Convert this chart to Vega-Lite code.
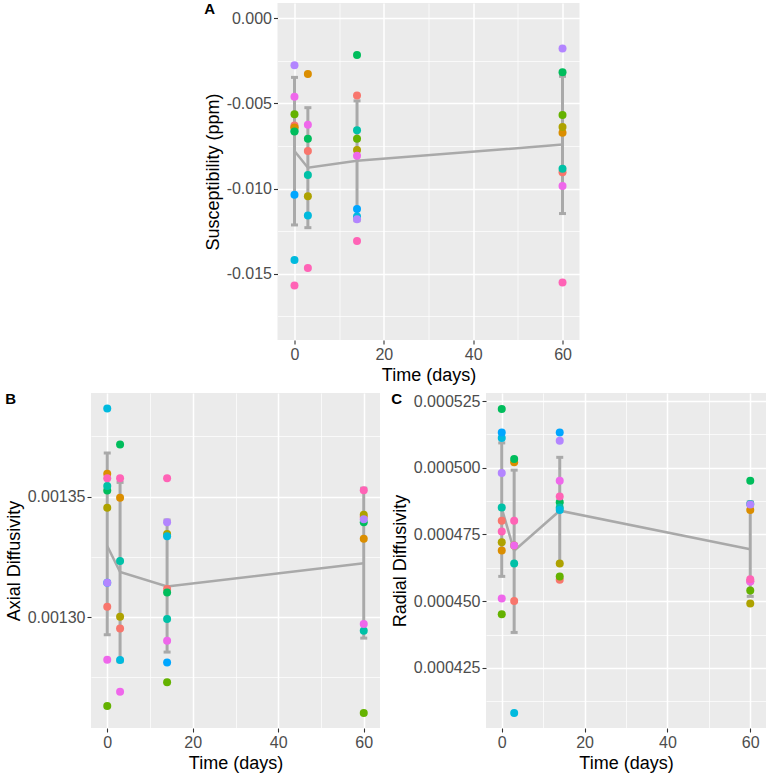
{
  "$schema": "https://vega.github.io/schema/vega-lite/v6.json",
  "background": "white",
  "padding": {"left": 5, "top": 2, "right": 2, "bottom": 2},
  "config": {
    "font": "Liberation Sans",
    "view": {"fill": "#EBEBEB", "stroke": null},
    "axis": {
      "domain": false,
      "gridColor": "#FFFFFF",
      "tickColor": "#333333",
      "tickSize": 4,
      "tickWidth": 1.1,
      "labelColor": "#4D4D4D",
      "labelFontSize": 16,
      "labelFont": "Liberation Sans",
      "labelPadding": 2,
      "labelFlush": false,
      "labelOverlap": false,
      "titleFont": "Liberation Sans",
      "titleFontSize": 18,
      "titleFontWeight": "normal",
      "titleColor": "#000000",
      "titlePadding": 4
    },
    "title": {"font": "Liberation Sans", "fontSize": 15, "fontWeight": "bold", "color": "#000000", "anchor": "start", "frame": "bounds", "offset": -14}
  },
  "datasets": {
    "sus": [
      {"s": "S03", "day": 0, "v": -0.00642}, {"s": "S06", "day": 0, "v": -0.00662},
      {"s": "S01", "day": 0, "v": -0.00630}, {"s": "S02", "day": 0, "v": -0.00642}, {"s": "S04", "day": 0, "v": -0.00564}, {"s": "S05", "day": 0, "v": -0.00665}, {"s": "S07", "day": 0, "v": -0.01420}, {"s": "S08", "day": 0, "v": -0.01036}, {"s": "S09", "day": 0, "v": -0.00276}, {"s": "S10", "day": 0, "v": -0.00461}, {"s": "S11", "day": 0, "v": -0.01570},
      {"s": "S01", "day": 3, "v": -0.00780}, {"s": "S02", "day": 3, "v": -0.00327}, {"s": "S03", "day": 3, "v": -0.01046}, {"s": "S05", "day": 3, "v": -0.00707}, {"s": "S06", "day": 3, "v": -0.00920}, {"s": "S07", "day": 3, "v": -0.01159}, {"s": "S10", "day": 3, "v": -0.00625}, {"s": "S11", "day": 3, "v": -0.01467},
      {"s": "S01", "day": 14, "v": -0.00453}, {"s": "S03", "day": 14, "v": -0.00774}, {"s": "S04", "day": 14, "v": -0.00707}, {"s": "S05", "day": 14, "v": -0.00216}, {"s": "S06", "day": 14, "v": -0.00657}, {"s": "S07", "day": 14, "v": -0.01165}, {"s": "S08", "day": 14, "v": -0.01121}, {"s": "S09", "day": 14, "v": -0.01180}, {"s": "S10", "day": 14, "v": -0.00807}, {"s": "S11", "day": 14, "v": -0.01309},
      {"s": "S01", "day": 60, "v": -0.00904}, {"s": "S02", "day": 60, "v": -0.00673}, {"s": "S03", "day": 60, "v": -0.00639}, {"s": "S04", "day": 60, "v": -0.00568}, {"s": "S05", "day": 60, "v": -0.00317}, {"s": "S06", "day": 60, "v": -0.00884}, {"s": "S09", "day": 60, "v": -0.00177}, {"s": "S10", "day": 60, "v": -0.00985}, {"s": "S11", "day": 60, "v": -0.01552}
    ],
    "sus_sum": [
      {"day": 0, "v": -0.00779, "lo": -0.01214, "hi": -0.00347},
      {"day": 3, "v": -0.00878, "lo": -0.01230, "hi": -0.00525},
      {"day": 14, "v": -0.00837, "lo": -0.01189, "hi": -0.00485},
      {"day": 60, "v": -0.00742, "lo": -0.01147, "hi": -0.00341}
    ],
    "ad": [
      {"s": "S08", "day": 0, "v": 0.0013143}, {"s": "S01", "day": 60, "v": 0.0013415},
      {"s": "S01", "day": 0, "v": 0.0013043}, {"s": "S02", "day": 0, "v": 0.0013595}, {"s": "S03", "day": 0, "v": 0.0013454}, {"s": "S04", "day": 0, "v": 0.0012631}, {"s": "S05", "day": 0, "v": 0.0013525}, {"s": "S06", "day": 0, "v": 0.0013544}, {"s": "S07", "day": 0, "v": 0.0013866}, {"s": "S09", "day": 0, "v": 0.0013143}, {"s": "S10", "day": 0, "v": 0.0012823}, {"s": "S11", "day": 0, "v": 0.0013576},
      {"s": "S01", "day": 3, "v": 0.0012953}, {"s": "S02", "day": 3, "v": 0.0013495}, {"s": "S03", "day": 3, "v": 0.0013002}, {"s": "S05", "day": 3, "v": 0.0013716}, {"s": "S06", "day": 3, "v": 0.0013233}, {"s": "S07", "day": 3, "v": 0.0012822}, {"s": "S10", "day": 3, "v": 0.0012690}, {"s": "S11", "day": 3, "v": 0.0013576},
      {"s": "S01", "day": 14, "v": 0.0013117}, {"s": "S03", "day": 14, "v": 0.0013345}, {"s": "S04", "day": 14, "v": 0.0012730}, {"s": "S05", "day": 14, "v": 0.0013102}, {"s": "S06", "day": 14, "v": 0.0012992}, {"s": "S07", "day": 14, "v": 0.0013336}, {"s": "S08", "day": 14, "v": 0.0012812}, {"s": "S09", "day": 14, "v": 0.0013394}, {"s": "S10", "day": 14, "v": 0.0012902}, {"s": "S11", "day": 14, "v": 0.0013576},
      {"s": "S02", "day": 60, "v": 0.0013325}, {"s": "S03", "day": 60, "v": 0.0013425}, {"s": "S04", "day": 60, "v": 0.0012602}, {"s": "S05", "day": 60, "v": 0.0013394}, {"s": "S06", "day": 60, "v": 0.0012943}, {"s": "S09", "day": 60, "v": 0.0013406}, {"s": "S10", "day": 60, "v": 0.0012972}, {"s": "S11", "day": 60, "v": 0.0013527}
    ],
    "ad_sum": [
      {"day": 0, "v": 0.0013295, "lo": 0.0012927, "hi": 0.0013681},
      {"day": 3, "v": 0.0013187, "lo": 0.0012815, "hi": 0.0013559},
      {"day": 14, "v": 0.0013127, "lo": 0.0012855, "hi": 0.0013403},
      {"day": 60, "v": 0.0013224, "lo": 0.0012913, "hi": 0.0013535}
    ],
    "rd": [
      {"s": "S03", "day": 3, "v": 0.0004709}, {"s": "S06", "day": 60, "v": 0.0004864}, {"s": "S01", "day": 60, "v": 0.0004575},
      {"s": "S01", "day": 0, "v": 0.0004801}, {"s": "S02", "day": 0, "v": 0.0004690}, {"s": "S03", "day": 0, "v": 0.0004721}, {"s": "S04", "day": 0, "v": 0.0004451}, {"s": "S05", "day": 0, "v": 0.0005220}, {"s": "S06", "day": 0, "v": 0.0004851}, {"s": "S07", "day": 0, "v": 0.0005111}, {"s": "S08", "day": 0, "v": 0.0005132}, {"s": "S09", "day": 0, "v": 0.0004980}, {"s": "S10", "day": 0, "v": 0.0004510}, {"s": "S11", "day": 0, "v": 0.0004761},
      {"s": "S01", "day": 3, "v": 0.0004501}, {"s": "S02", "day": 3, "v": 0.0005021}, {"s": "S05", "day": 3, "v": 0.0005033}, {"s": "S06", "day": 3, "v": 0.0004641}, {"s": "S07", "day": 3, "v": 0.0004081}, {"s": "S10", "day": 3, "v": 0.0004709}, {"s": "S11", "day": 3, "v": 0.0004801},
      {"s": "S01", "day": 14, "v": 0.0004580}, {"s": "S03", "day": 14, "v": 0.0004641}, {"s": "S04", "day": 14, "v": 0.0004593}, {"s": "S05", "day": 14, "v": 0.0004871}, {"s": "S06", "day": 14, "v": 0.0004851}, {"s": "S07", "day": 14, "v": 0.0004842}, {"s": "S08", "day": 14, "v": 0.0005132}, {"s": "S09", "day": 14, "v": 0.0005101}, {"s": "S10", "day": 14, "v": 0.0004951}, {"s": "S11", "day": 14, "v": 0.0004892},
      {"s": "S02", "day": 60, "v": 0.0004842}, {"s": "S03", "day": 60, "v": 0.0004491}, {"s": "S04", "day": 60, "v": 0.0004540}, {"s": "S05", "day": 60, "v": 0.0004951}, {"s": "S09", "day": 60, "v": 0.0004862}, {"s": "S10", "day": 60, "v": 0.0004574}, {"s": "S11", "day": 60, "v": 0.0004582}
    ],
    "rd_sum": [
      {"day": 0, "v": 0.0004848, "lo": 0.0004593, "hi": 0.0005093},
      {"day": 3, "v": 0.0004689, "lo": 0.0004383, "hi": 0.0004991},
      {"day": 14, "v": 0.0004839, "lo": 0.0004639, "hi": 0.0005039},
      {"day": 60, "v": 0.0004695, "lo": 0.0004518, "hi": 0.0004872}
    ]
  },
  "spacing": 8,
  "center": true,
  "vconcat": [
    {
      "title": {"text": "A"},
      "width": 302,
      "height": 337,
      "encoding": {
        "x": {"field": "day", "type": "quantitative", "title": "Time (days)", "scale": {"domain": [-3.8, 63.8], "nice": false, "zero": false},
          "axis": {"values": [0, 10, 20, 30, 40, 50, 60], "labelExpr": "datum.value % 20 == 0 ? datum.label : ''",
            "tickOpacity": {"condition": {"test": "datum.value % 20 == 0", "value": 1}, "value": 0},
            "gridWidth": {"condition": {"test": "datum.value % 20 == 0", "value": 1.5}, "value": 0.7}}},
        "y": {"field": "v", "type": "quantitative", "title": "Susceptibility (ppm)", "scale": {"domain": [-0.0189, 0.0009], "nice": false, "zero": false},
          "axis": {"values": [-0.0175, -0.015, -0.0125, -0.01, -0.0075, -0.005, -0.0025, 0],
            "labelExpr": "round(datum.value/0.0025) % 2 == 0 ? replace(format(datum.value, '.3f'), '\u2212', '-') : ''",
            "tickOpacity": {"condition": {"test": "round(datum.value/0.0025) % 2 == 0", "value": 1}, "value": 0},
            "gridWidth": {"condition": {"test": "round(datum.value/0.0025) % 2 == 0", "value": 1.5}, "value": 0.7}}}
      },
      "layer": [
        {"data": {"name": "sus_sum"}, "mark": {"type": "line", "color": "#A9A9A9", "strokeWidth": 2.5}},
        {"data": {"name": "sus_sum"}, "mark": {"type": "rule", "color": "#A9A9A9", "strokeWidth": 3},
          "encoding": {"y": {"field": "lo", "type": "quantitative", "title": "Susceptibility (ppm)", "scale": {"domain": [-0.0189, 0.0009], "nice": false, "zero": false}}, "y2": {"field": "hi"}}},
        {"data": {"name": "sus_sum"}, "mark": {"type": "tick", "orient": "horizontal", "color": "#A9A9A9", "size": 7, "thickness": 3, "opacity": 1},
          "encoding": {"y": {"field": "lo", "type": "quantitative", "title": "Susceptibility (ppm)", "scale": {"domain": [-0.0189, 0.0009], "nice": false, "zero": false}}}},
        {"data": {"name": "sus_sum"}, "mark": {"type": "tick", "orient": "horizontal", "color": "#A9A9A9", "size": 7, "thickness": 3, "opacity": 1},
          "encoding": {"y": {"field": "hi", "type": "quantitative", "title": "Susceptibility (ppm)", "scale": {"domain": [-0.0189, 0.0009], "nice": false, "zero": false}}}},
        {"data": {"name": "sus"}, "mark": {"type": "circle", "size": 64, "opacity": 1},
          "encoding": {"color": {"field": "s", "type": "nominal", "legend": null,
            "scale": {"domain": ["S01", "S02", "S03", "S04", "S05", "S06", "S07", "S08", "S09", "S10", "S11"],
              "range": ["#F8766D", "#DB8E00", "#AEA200", "#64B200", "#00BD5C", "#00C1A7", "#00BADE", "#00A6FF", "#B385FF", "#EF67EB", "#FF63B6"]}}}}
      ]
    },
    {
      "spacing": 11,
      "hconcat": [
        {
          "title": {"text": "B"},
          "width": 289,
          "height": 335,
          "encoding": {
            "x": {"field": "day", "type": "quantitative", "title": "Time (days)", "scale": {"domain": [-3.8, 63.8], "nice": false, "zero": false},
              "axis": {"values": [0, 10, 20, 30, 40, 50, 60], "labelExpr": "datum.value % 20 == 0 ? datum.label : ''",
                "tickOpacity": {"condition": {"test": "datum.value % 20 == 0", "value": 1}, "value": 0},
                "gridWidth": {"condition": {"test": "datum.value % 20 == 0", "value": 1.5}, "value": 0.7}}},
            "y": {"field": "v", "type": "quantitative", "title": "Axial Diffusivity", "scale": {"domain": [0.001254, 0.001393], "nice": false, "zero": false},
              "axis": {"values": [0.001275, 0.0013, 0.001325, 0.00135, 0.001375],
                "labelExpr": "round(datum.value/0.000025) % 2 == 0 ? format(datum.value, '.5f') : ''",
                "tickOpacity": {"condition": {"test": "round(datum.value/0.000025) % 2 == 0", "value": 1}, "value": 0},
                "gridWidth": {"condition": {"test": "round(datum.value/0.000025) % 2 == 0", "value": 1.5}, "value": 0.7}}}
          },
          "layer": [
            {"data": {"name": "ad_sum"}, "mark": {"type": "line", "color": "#A9A9A9", "strokeWidth": 2.5}},
            {"data": {"name": "ad_sum"}, "mark": {"type": "rule", "color": "#A9A9A9", "strokeWidth": 3},
              "encoding": {"y": {"field": "lo", "type": "quantitative", "title": "Axial Diffusivity", "scale": {"domain": [0.001254, 0.001393], "nice": false, "zero": false}}, "y2": {"field": "hi"}}},
            {"data": {"name": "ad_sum"}, "mark": {"type": "tick", "orient": "horizontal", "color": "#A9A9A9", "size": 7, "thickness": 3, "opacity": 1},
              "encoding": {"y": {"field": "lo", "type": "quantitative", "title": "Axial Diffusivity", "scale": {"domain": [0.001254, 0.001393], "nice": false, "zero": false}}}},
            {"data": {"name": "ad_sum"}, "mark": {"type": "tick", "orient": "horizontal", "color": "#A9A9A9", "size": 7, "thickness": 3, "opacity": 1},
              "encoding": {"y": {"field": "hi", "type": "quantitative", "title": "Axial Diffusivity", "scale": {"domain": [0.001254, 0.001393], "nice": false, "zero": false}}}},
            {"data": {"name": "ad"}, "mark": {"type": "circle", "size": 64, "opacity": 1},
              "encoding": {"color": {"field": "s", "type": "nominal", "legend": null,
                "scale": {"domain": ["S01", "S02", "S03", "S04", "S05", "S06", "S07", "S08", "S09", "S10", "S11"],
                  "range": ["#F8766D", "#DB8E00", "#AEA200", "#64B200", "#00BD5C", "#00C1A7", "#00BADE", "#00A6FF", "#B385FF", "#EF67EB", "#FF63B6"]}}}}
          ]
        },
        {
          "title": {"text": "C"},
          "width": 280,
          "height": 335,
          "encoding": {
            "x": {"field": "day", "type": "quantitative", "title": "Time (days)", "scale": {"domain": [-3.8, 63.8], "nice": false, "zero": false},
              "axis": {"values": [0, 10, 20, 30, 40, 50, 60], "labelExpr": "datum.value % 20 == 0 ? datum.label : ''",
                "tickOpacity": {"condition": {"test": "datum.value % 20 == 0", "value": 1}, "value": 0},
                "gridWidth": {"condition": {"test": "datum.value % 20 == 0", "value": 1.5}, "value": 0.7}}},
            "y": {"field": "v", "type": "quantitative", "title": "Radial Diffusivity", "scale": {"domain": [0.0004025, 0.000528], "nice": false, "zero": false},
              "axis": {"values": [0.0004125, 0.000425, 0.0004375, 0.00045, 0.0004625, 0.000475, 0.0004875, 0.0005, 0.0005125, 0.000525],
                "labelExpr": "round(datum.value/0.0000125) % 2 == 0 ? format(datum.value, '.6f') : ''",
                "tickOpacity": {"condition": {"test": "round(datum.value/0.0000125) % 2 == 0", "value": 1}, "value": 0},
                "gridWidth": {"condition": {"test": "round(datum.value/0.0000125) % 2 == 0", "value": 1.5}, "value": 0.7}}}
          },
          "layer": [
            {"data": {"name": "rd_sum"}, "mark": {"type": "line", "color": "#A9A9A9", "strokeWidth": 2.5}},
            {"data": {"name": "rd_sum"}, "mark": {"type": "rule", "color": "#A9A9A9", "strokeWidth": 3},
              "encoding": {"y": {"field": "lo", "type": "quantitative", "title": "Radial Diffusivity", "scale": {"domain": [0.0004025, 0.000528], "nice": false, "zero": false}}, "y2": {"field": "hi"}}},
            {"data": {"name": "rd_sum"}, "mark": {"type": "tick", "orient": "horizontal", "color": "#A9A9A9", "size": 7, "thickness": 3, "opacity": 1},
              "encoding": {"y": {"field": "lo", "type": "quantitative", "title": "Radial Diffusivity", "scale": {"domain": [0.0004025, 0.000528], "nice": false, "zero": false}}}},
            {"data": {"name": "rd_sum"}, "mark": {"type": "tick", "orient": "horizontal", "color": "#A9A9A9", "size": 7, "thickness": 3, "opacity": 1},
              "encoding": {"y": {"field": "hi", "type": "quantitative", "title": "Radial Diffusivity", "scale": {"domain": [0.0004025, 0.000528], "nice": false, "zero": false}}}},
            {"data": {"name": "rd"}, "mark": {"type": "circle", "size": 64, "opacity": 1},
              "encoding": {"color": {"field": "s", "type": "nominal", "legend": null,
                "scale": {"domain": ["S01", "S02", "S03", "S04", "S05", "S06", "S07", "S08", "S09", "S10", "S11"],
                  "range": ["#F8766D", "#DB8E00", "#AEA200", "#64B200", "#00BD5C", "#00C1A7", "#00BADE", "#00A6FF", "#B385FF", "#EF67EB", "#FF63B6"]}}}}
          ]
        }
      ]
    }
  ]
}
